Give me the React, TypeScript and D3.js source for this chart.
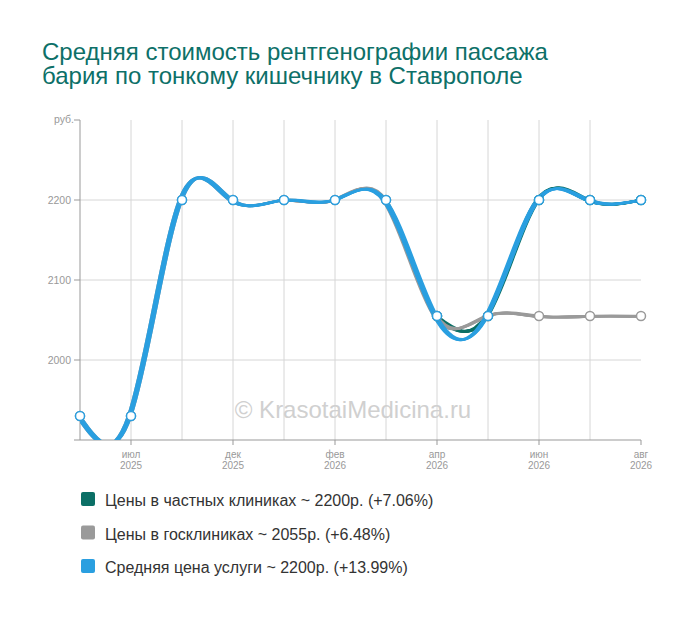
import { useEffect, useRef } from "react";
import * as d3 from "d3";

const monthLabels = ["", "июл", "", "дек", "", "фев", "", "апр", "", "июн", "", "авг"];
const yearLabels = ["", "2025", "", "2025", "", "2026", "", "2026", "", "2026", "", "2026"];

const privatePrices: (number | null)[] = [null, null, null, null, null, null, null, 2055, 2055, 2200, 2200, 2200];
const govPrices: (number | null)[] = [1930, 1930, 2200, 2200, 2200, 2200, 2200, 2055, 2055, 2055, 2055, 2055];
const avgPrices: (number | null)[] = [1930, 1930, 2200, 2200, 2200, 2200, 2200, 2055, 2055, 2200, 2200, 2200];

const yTicks = [2000, 2100, 2200];

const series = [
  { name: "Цены в частных клиниках ~ 2200р. (+7.06%)", color: "#0b6f66", values: privatePrices },
  { name: "Цены в госклиниках ~ 2055р. (+6.48%)", color: "#9a9a9a", values: govPrices },
  { name: "Средняя цена услуги ~ 2200р. (+13.99%)", color: "#2a9fe0", values: avgPrices },
];

export default function App() {
  const svgRef = useRef<SVGSVGElement>(null);

  useEffect(() => {
    if (!svgRef.current) return;
    const svg = d3.select(svgRef.current);
    svg.selectAll("*").remove();

    const left = 80, right = 641, top = 120, bottom = 440;
    const font = "'Liberation Sans', Arial, sans-serif";

    const x = d3.scalePoint<number>()
      .domain(d3.range(monthLabels.length))
      .range([left, right]);

    const y = d3.scaleLinear()
      .domain([1900, 2300])
      .range([bottom, top]);

    // Title
    const title = svg.append("text")
      .attr("font-family", font)
      .attr("font-size", 24)
      .attr("fill", "#0d7068");
    title.append("tspan").attr("x", 42).attr("y", 60).text("Средняя стоимость рентгенографии пассажа");
    title.append("tspan").attr("x", 42).attr("y", 84).text("бария по тонкому кишечнику в Ставрополе");

    // Grid
    const g = svg.append("g");
    g.selectAll(".hgrid")
      .data(yTicks)
      .enter()
      .append("line")
      .attr("x1", left).attr("x2", right)
      .attr("y1", d => y(d)).attr("y2", d => y(d))
      .attr("stroke", "#d6d6d6");

    g.selectAll(".vgrid")
      .data(d3.range(1, monthLabels.length - 1))
      .enter()
      .append("line")
      .attr("x1", d => x(d)!).attr("x2", d => x(d)!)
      .attr("y1", top).attr("y2", bottom)
      .attr("stroke", "#d6d6d6");

    // Watermark
    svg.append("text")
      .attr("x", 353).attr("y", 418)
      .attr("text-anchor", "middle")
      .attr("font-family", font)
      .attr("font-size", 24)
      .attr("fill", "#d0d0d0")
      .text("© KrasotaiMedicina.ru");

    // Axes
    g.append("line")
      .attr("x1", left).attr("x2", left)
      .attr("y1", top).attr("y2", bottom)
      .attr("stroke", "#999");
    g.append("line")
      .attr("x1", left - 6).attr("x2", right)
      .attr("y1", bottom).attr("y2", bottom)
      .attr("stroke", "#999");

    g.selectAll(".ytick")
      .data([...yTicks, 2300])
      .enter()
      .append("line")
      .attr("x1", left - 6).attr("x2", left)
      .attr("y1", d => y(d)).attr("y2", d => y(d))
      .attr("stroke", "#999");

    g.selectAll(".ylabel")
      .data(yTicks)
      .enter()
      .append("text")
      .attr("x", left - 9)
      .attr("y", d => y(d) + 4)
      .attr("text-anchor", "end")
      .attr("font-family", font)
      .attr("font-size", 10.5)
      .attr("fill", "#999")
      .text(d => d);

    g.append("text")
      .attr("x", left - 6).attr("y", top + 3)
      .attr("text-anchor", "end")
      .attr("font-family", font)
      .attr("font-size", 10.5)
      .attr("fill", "#999")
      .text("руб.");

    const labeled = d3.range(monthLabels.length).filter(i => monthLabels[i] !== "");
    g.selectAll(".xtick")
      .data(labeled)
      .enter()
      .append("line")
      .attr("x1", d => x(d)!).attr("x2", d => x(d)!)
      .attr("y1", bottom).attr("y2", bottom + 5)
      .attr("stroke", "#999");

    const xl = g.selectAll(".xlabel")
      .data(labeled)
      .enter()
      .append("text")
      .attr("text-anchor", "middle")
      .attr("font-family", font)
      .attr("font-size", 10)
      .attr("fill", "#999");
    xl.append("tspan").attr("x", d => x(d)!).attr("y", bottom + 18).text(d => monthLabels[d]);
    xl.append("tspan").attr("x", d => x(d)!).attr("y", bottom + 29).text(d => yearLabels[d]);

    // Lines
    svg.append("clipPath").attr("id", "plot-clip")
      .append("rect")
      .attr("x", left).attr("y", top)
      .attr("width", right - left + 10).attr("height", bottom - top);

    const line = d3.line<number | null>()
      .defined(d => d !== null)
      .x((_, i) => x(i)!)
      .y(d => y(d as number))
      .curve(d3.curveNatural);

    const lines = svg.append("g").attr("clip-path", "url(#plot-clip)");
    series.forEach(s => {
      [-3, -2, -1, 0].forEach(dx => {
        lines.append("path")
          .datum(s.values)
          .attr("transform", `translate(${dx},${dx === 0 ? 0 : 0.5})`)
          .attr("fill", "none")
          .attr("stroke", s.color)
          .attr("stroke-width", 2.6)
          .attr("d", line);
      });
    });

    // Points
    series.forEach(s => {
      svg.append("g")
        .selectAll("circle")
        .data(s.values.map((v, i) => ({ v, i })).filter(d => d.v !== null))
        .enter()
        .append("circle")
        .attr("cx", d => x(d.i)!)
        .attr("cy", d => y(d.v as number))
        .attr("r", 4.5)
        .attr("fill", "#fff")
        .attr("stroke", s.color)
        .attr("stroke-width", 1.5);
    });

    // Legend
    const legend = svg.append("g").attr("transform", "translate(81, 492)");
    series.forEach((s, i) => {
      legend.append("rect")
        .attr("x", 0).attr("y", i * 33.5)
        .attr("width", 14).attr("height", 14)
        .attr("rx", 2)
        .attr("fill", s.color);
      legend.append("text")
        .attr("x", 24).attr("y", i * 33.5 + 14)
        .attr("font-family", font)
        .attr("font-size", 16)
        .attr("fill", "#333")
        .text(s.name);
    });
  }, []);

  return (
    <div style={{ position: "absolute", left: 0, top: 0 }}>
      <svg ref={svgRef} width={700} height={617} style={{ display: "block" }}></svg>
    </div>
  );
}
